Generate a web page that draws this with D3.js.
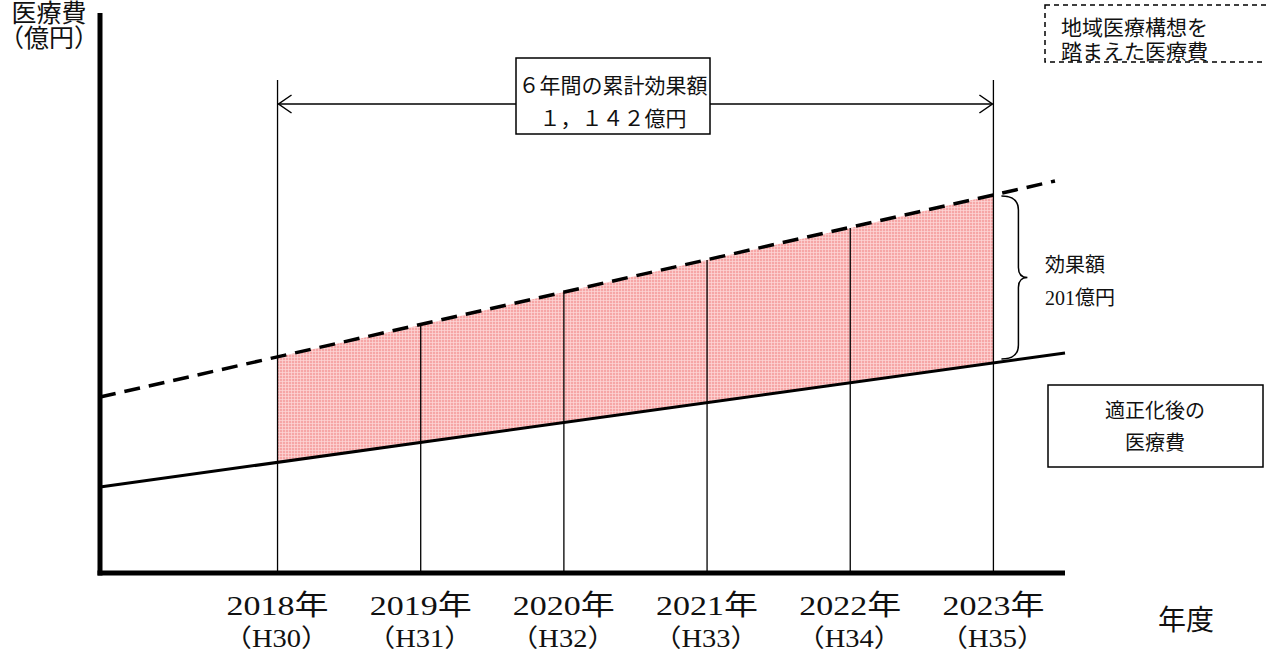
<!DOCTYPE html>
<html><head><meta charset="utf-8">
<script src="https://cdn.jsdelivr.net/npm/d3@7/dist/d3.min.js"></script>
<style>
html,body{margin:0;padding:0;background:#fff;}
svg{display:block;}
text{font-family:"Liberation Serif","Noto Sans CJK JP",serif;fill:#111;}
</style></head>
<body>
<svg id="chart" width="1266" height="655"></svg>
<script>
// ---- data (conceptual chart, values in arbitrary units) ----
const years = [2018, 2019, 2020, 2021, 2022, 2023];
const yearLabels = ["2018年", "2019年", "2020年", "2021年", "2022年", "2023年"];
const eraLabels = ["（H30）", "（H31）", "（H32）", "（H33）", "（H34）", "（H35）"];
const projected = [216, 248, 281, 313, 345, 378];   // 地域医療構想を踏まえた医療費 (dashed)
const optimized = [110, 130, 150, 170, 190, 210];   // 適正化後の医療費 (solid)
const projectedExtent = [[2016.76, 176], [2023.43, 392]];
const optimizedExtent = [[2016.76, 86], [2023.5, 220]];
const totalLabel = ["６年間の累計効果額", "１，１４２億円"];
const effectLabel = ["効果額", "201億円"];
const projLabel = ["地域医療構想を", "踏まえた医療費"];
const optLabel = ["適正化後の", "医療費"];
const yTitle = ["医療費", "（億円）"];
const xTitle = "年度";

const svg = d3.select("#chart");
const x = d3.scaleLinear().domain([2016.76, 2023.5]).range([100, 1065]);
const y = d3.scaleLinear().domain([0, 560]).range([573, 13]);

// pattern for filled area
const defs = svg.append("defs");
const pat = defs.append("pattern").attr("id", "grid").attr("width", 3).attr("height", 3)
  .attr("patternUnits", "userSpaceOnUse");
pat.append("rect").attr("width", 3).attr("height", 3).attr("fill", "#f6a6a6");
pat.append("path").attr("d", "M0 0.5H3M0.5 0V3").attr("stroke", "#fdd9d9").attr("stroke-width", 0.7);

// filled effect area
const pts = years.map((yr, i) => ({yr, hi: projected[i], lo: optimized[i]}));
svg.append("path").datum(pts)
  .attr("d", d3.area().x(d => x(d.yr)).y0(d => y(d.lo)).y1(d => y(d.hi)))
  .attr("fill", "url(#grid)");

// vertical year lines
const topY = 80;
svg.selectAll("line.yr").data(pts).enter().append("line")
  .attr("x1", d => x(d.yr)).attr("x2", d => x(d.yr))
  .attr("y1", (d, i) => (i === 0 || i === years.length - 1) ? topY : y(d.hi))
  .attr("y2", y(0))
  .attr("stroke", "#000").attr("stroke-width", 1.3);

// lines
const line = d3.line().x(d => x(d[0])).y(d => y(d[1]));
svg.append("path").datum(projectedExtent).attr("d", line)
  .attr("stroke", "#000").attr("stroke-width", 3.5).attr("fill", "none")
  .attr("stroke-dasharray", "16,9");
svg.append("path").datum(optimizedExtent).attr("d", line)
  .attr("stroke", "#000").attr("stroke-width", 3).attr("fill", "none");

// axes
svg.append("line").attr("x1", x.range()[0]).attr("x2", x.range()[0]).attr("y1", 13).attr("y2", y(0) + 2.5)
  .attr("stroke", "#000").attr("stroke-width", 5);
svg.append("line").attr("x1", x.range()[0] - 2.5).attr("x2", x.range()[1]).attr("y1", y(0)).attr("y2", y(0))
  .attr("stroke", "#000").attr("stroke-width", 5);

// x labels
svg.selectAll("text.yl").data(years).enter().append("text")
  .attr("x", d => x(d) - 51).attr("y", 615)
  .attr("font-size", 28).attr("textLength", 102).attr("lengthAdjust", "spacingAndGlyphs")
  .text((d, i) => yearLabels[i]);
svg.selectAll("text.el").data(years).enter().append("text")
  .attr("x", d => x(d) - 54).attr("y", 647)
  .attr("font-size", 25).attr("textLength", 106).attr("lengthAdjust", "spacingAndGlyphs")
  .text((d, i) => eraLabels[i]);
svg.append("text").attr("x", 1186).attr("y", 630).attr("text-anchor", "middle")
  .attr("font-size", 28).text(xTitle);

// y title
svg.append("text").attr("x", 49).attr("y", 22).attr("text-anchor", "middle").attr("font-size", 25).text(yTitle[0]);
svg.append("text").attr("x", 49).attr("y", 47).attr("text-anchor", "middle").attr("font-size", 25).text(yTitle[1]);

// double arrow
const ay = 104;
const ax1 = x(years[0]) + 1, ax2 = x(years[years.length - 1]) - 1;
svg.append("line").attr("x1", ax1).attr("x2", ax2).attr("y1", ay).attr("y2", ay).attr("stroke", "#000").attr("stroke-width", 1.5);
svg.append("path").attr("d", `M${ax1 + 13},${ay - 9}L${ax1},${ay}L${ax1 + 13},${ay + 9}`).attr("stroke", "#000").attr("stroke-width", 1.5).attr("fill", "none");
svg.append("path").attr("d", `M${ax2 - 13},${ay - 9}L${ax2},${ay}L${ax2 - 13},${ay + 9}`).attr("stroke", "#000").attr("stroke-width", 1.5).attr("fill", "none");

// total box
svg.append("rect").attr("x", 516).attr("y", 58).attr("width", 194).attr("height", 76)
  .attr("fill", "#fff").attr("stroke", "#000").attr("stroke-width", 1.5);
svg.append("text").attr("x", 613).attr("y", 93).attr("text-anchor", "middle").attr("font-size", 21).text(totalLabel[0]);
svg.append("text").attr("x", 613).attr("y", 126).attr("text-anchor", "middle").attr("font-size", 21).text(totalLabel[1]);

// dashed box (projected label)
svg.append("rect").attr("x", 1045).attr("y", 5).attr("width", 260).attr("height", 57)
  .attr("fill", "none").attr("stroke", "#000").attr("stroke-width", 1.5).attr("stroke-dasharray", "5,4");
svg.append("text").attr("x", 1061).attr("y", 35).attr("font-size", 21).text(projLabel[0]);
svg.append("text").attr("x", 1061).attr("y", 59).attr("font-size", 21).text(projLabel[1]);

// brace
const bx = x(years[years.length - 1]) + 8;
const bTop = y(projected[projected.length - 1]) + 1, bBot = y(optimized[optimized.length - 1]) - 4;
const bMid = (bTop + bBot) / 2;
svg.append("path").attr("d",
  `M${bx},${bTop} Q${bx + 17},${bTop} ${bx + 17},${bTop + 14} L${bx + 17},${bMid - 10} Q${bx + 17},${bMid} ${bx + 26},${bMid}` +
  ` Q${bx + 17},${bMid} ${bx + 17},${bMid + 10} L${bx + 17},${bBot - 14} Q${bx + 17},${bBot} ${bx},${bBot}`)
  .attr("fill", "none").attr("stroke", "#000").attr("stroke-width", 1.5);
svg.append("text").attr("x", 1045).attr("y", 272).attr("font-size", 20).text(effectLabel[0]);
svg.append("text").attr("x", 1045).attr("y", 305).attr("font-size", 20).text(effectLabel[1]);

// optimized label box
svg.append("rect").attr("x", 1048).attr("y", 385).attr("width", 215).attr("height", 82)
  .attr("fill", "#fff").attr("stroke", "#000").attr("stroke-width", 1.5);
svg.append("text").attr("x", 1155).attr("y", 418).attr("text-anchor", "middle").attr("font-size", 20).text(optLabel[0]);
svg.append("text").attr("x", 1155).attr("y", 450).attr("text-anchor", "middle").attr("font-size", 20).text(optLabel[1]);
</script>
</body></html>
